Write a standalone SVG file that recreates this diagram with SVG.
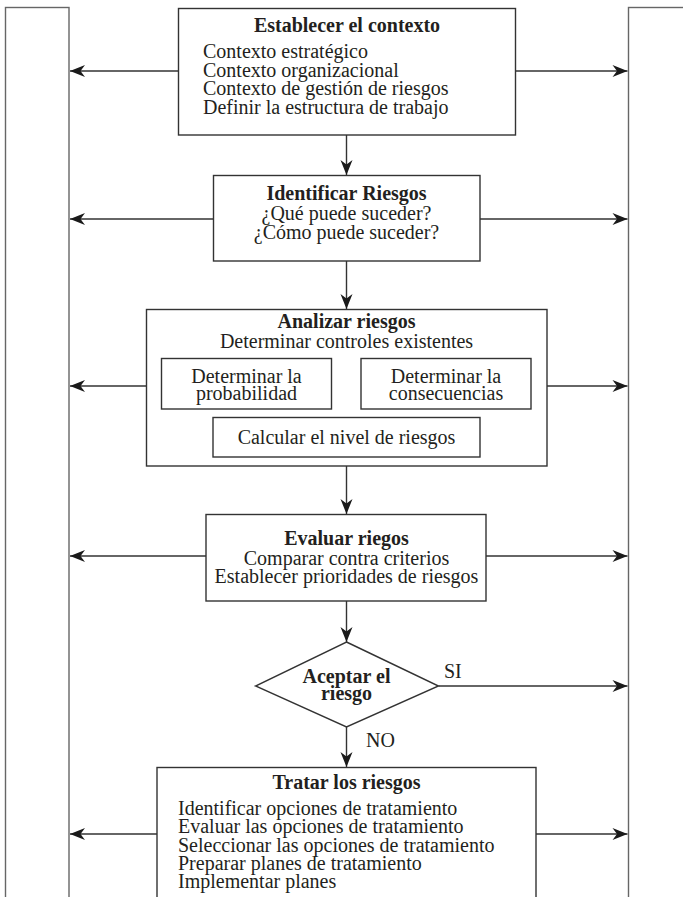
<svg xmlns="http://www.w3.org/2000/svg" width="683" height="897" viewBox="0 0 683 897">
<style>
.box{fill:#fff;stroke:#333;stroke-width:1.4}
.col{fill:none;stroke:#666;stroke-width:1.4}
.ln{stroke:#333;stroke-width:1.4;fill:none;marker-end:url(#ah)}
text{font-family:"Liberation Serif","Times New Roman",serif;font-size:20px;fill:#231f20}
.b{font-weight:bold}
.c{text-anchor:middle}
</style>
<defs>
<marker id="ah" markerUnits="userSpaceOnUse" markerWidth="20" markerHeight="16" viewBox="-16 -8 17 16" refX="0" refY="0" orient="auto">
<path d="M0,0 L-15,-6 L-10.5,0 L-15,6 Z" fill="#1a1a1a"/>
</marker>
</defs>
<rect width="683" height="897" fill="#fff"/>
<g id="columna-izquierda"><rect class="col" x="5.5" y="7.5" width="63.5" height="920"/></g>
<g id="columna-derecha"><rect class="col" x="628.5" y="7.5" width="100" height="920"/></g>
<g id="conectores">
<line class="ln" x1="178" y1="71" x2="70" y2="71"/>
<line class="ln" x1="515" y1="71" x2="627.5" y2="71"/>
<line class="ln" x1="346.5" y1="135" x2="346.5" y2="175"/>
<line class="ln" x1="213" y1="219" x2="70" y2="219"/>
<line class="ln" x1="480" y1="219" x2="627.5" y2="219"/>
<line class="ln" x1="346.5" y1="261" x2="346.5" y2="309"/>
<line class="ln" x1="146" y1="386" x2="70" y2="386"/>
<line class="ln" x1="547" y1="386" x2="627.5" y2="386"/>
<line class="ln" x1="346.5" y1="466" x2="346.5" y2="514"/>
<line class="ln" x1="206" y1="556" x2="70" y2="556"/>
<line class="ln" x1="486" y1="556" x2="627.5" y2="556"/>
<line class="ln" x1="346.5" y1="601" x2="346.5" y2="642"/>
<line class="ln" x1="438.5" y1="686" x2="627.5" y2="686"/>
<line class="ln" x1="346.5" y1="727" x2="346.5" y2="767"/>
<line class="ln" x1="157" y1="834" x2="70" y2="834"/>
<line class="ln" x1="536" y1="834" x2="627.5" y2="834"/>
<text x="444" y="678">SI</text>
<text x="366" y="747">NO</text>
</g>
<g id="establecer-contexto">
<rect class="box" x="178.5" y="8.5" width="337" height="126.5"/>
<text class="b c" x="347" y="32">Establecer el contexto</text>
<text x="203" y="58">Contexto estratégico</text>
<text x="203" y="76.5">Contexto organizacional</text>
<text x="203" y="95">Contexto de gestión de riesgos</text>
<text x="203" y="114">Definir la estructura de trabajo</text>
</g>
<g id="identificar-riesgos">
<rect class="box" x="213.5" y="175.5" width="266.5" height="85.5"/>
<text class="b c" x="346.5" y="200">Identificar Riesgos</text>
<text class="c" x="346.5" y="220">¿Qué puede suceder?</text>
<text class="c" x="346.5" y="239">¿Cómo puede suceder?</text>
</g>
<g id="analizar-riesgos">
<rect class="box" x="146.5" y="309.5" width="400.5" height="156.5"/>
<text class="b c" x="346.5" y="328">Analizar riesgos</text>
<text class="c" x="346.5" y="348">Determinar controles existentes</text>
</g>
<g id="determinar-probabilidad">
<rect class="box" x="161.5" y="358.5" width="170" height="50.5"/>
<text class="c" x="246.5" y="383">Determinar la</text>
<text class="c" x="246.5" y="400">probabilidad</text>
</g>
<g id="determinar-consecuencias">
<rect class="box" x="361" y="358.5" width="170" height="50.5"/>
<text class="c" x="446" y="383">Determinar la</text>
<text class="c" x="446" y="400">consecuencias</text>
</g>
<g id="calcular-nivel">
<rect class="box" x="213" y="417.5" width="267" height="39.5"/>
<text class="c" x="346.5" y="444">Calcular el nivel de riesgos</text>
</g>
<g id="evaluar-riesgos">
<rect class="box" x="206" y="514.5" width="280" height="86.5"/>
<text class="b c" x="346.5" y="545">Evaluar riegos</text>
<text class="c" x="346.5" y="565">Comparar contra criterios</text>
<text class="c" x="346.5" y="583">Establecer prioridades de riesgos</text>
</g>
<g id="aceptar-riesgo">
<polygon class="box" points="346.5,642 438.5,686 346.5,727 255.5,686"/>
<text class="b c" x="346.5" y="683">Aceptar el</text>
<text class="b c" x="346.5" y="700">riesgo</text>
</g>
<g id="tratar-riesgos">
<rect class="box" x="157" y="767.5" width="379" height="160"/>
<text class="b c" x="346.5" y="789">Tratar los riesgos</text>
<text x="178" y="815">Identificar opciones de tratamiento</text>
<text x="178" y="833">Evaluar las opciones de tratamiento</text>
<text x="178" y="851.5">Seleccionar las opciones de tratamiento</text>
<text x="178" y="870">Preparar planes de tratamiento</text>
<text x="178" y="888">Implementar planes</text>
</g>
</svg>
